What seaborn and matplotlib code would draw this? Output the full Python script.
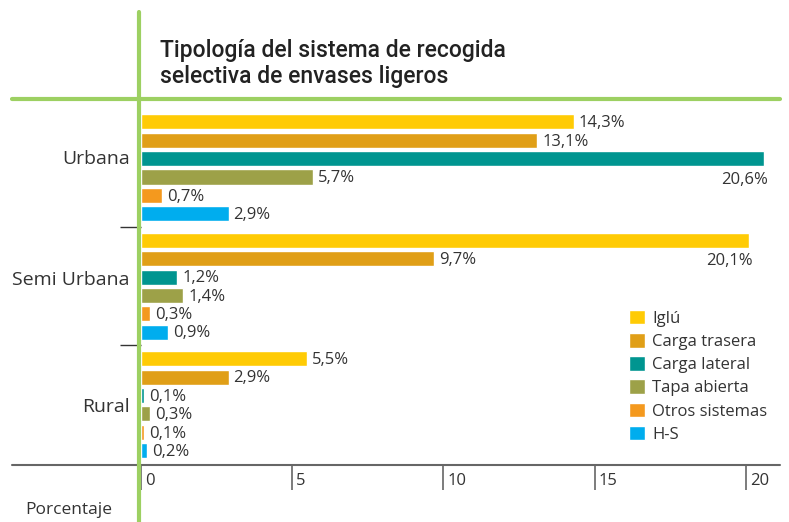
import numpy as np
import pandas as pd
import matplotlib
matplotlib.use('Agg')
import matplotlib.pyplot as plt
import matplotlib.transforms as mtransforms
from matplotlib.lines import Line2D
import seaborn as sns

# Data
zonas = ["Urbana", "Semi Urbana", "Rural"]
sistemas = ["Iglú", "Carga trasera", "Carga lateral", "Tapa abierta", "Otros sistemas", "H-S"]
iglu = [14.3, 20.1, 5.5]
carga_trasera = [13.1, 9.7, 2.9]
carga_lateral = [20.6, 1.2, 0.1]
tapa_abierta = [5.7, 1.4, 0.3]
otros_sistemas = [0.7, 0.3, 0.1]
hs = [2.9, 0.9, 0.2]
x_ticks = [0, 5, 10, 15, 20]

colores = ["#FFCB05", "#E09F17", "#009590", "#9DA148", "#F4991E", "#00ADEE"]
VERDE = "#9DD062"
GRIS = "#666666"
TEXTO = "#333333"

series = [iglu, carga_trasera, carga_lateral, tapa_abierta, otros_sistemas, hs]
rows = []
for s, vals in zip(sistemas, series):
    for z, v in zip(zonas, vals):
        rows.append({"zona": z, "sistema": s, "valor": v})
df = pd.DataFrame(rows)

sns.set_theme(style="white")
plt.rcParams['font.family'] = ['Open Sans', 'DejaVu Sans']

W, H = 789, 522
PX_UNIT = 30.25  # pixels per percentage point
fig = plt.figure(figsize=(W / 100, H / 100), dpi=100)
ax = fig.add_axes([141 / W, 1 - 465 / H, (780 - 141) / W, (465 - 98) / H])

sns.barplot(data=df, x="valor", y="zona", hue="sistema", order=zonas, hue_order=sistemas,
            palette=colores, orient="h", width=0.93, gap=0.18, errorbar=None,
            saturation=1, ax=ax)

ax.set_xlim(0, (780 - 141) / PX_UNIT)
ax.set_ylim(2.51, -0.59)
ax.set_xlabel("")
ax.set_ylabel("")
for sp in ax.spines.values():
    sp.set_visible(False)

# value labels
for cont in ax.containers:
    for p in cont:
        v = p.get_width()
        txt = f"{v:.1f}".replace(".", ",") + "%"
        if v >= 20:
            ax.annotate(txt, (v, p.get_y() + p.get_height()), xytext=(3, -4),
                        textcoords="offset points", ha="right", va="top",
                        fontsize=12, color=TEXTO)
        else:
            ax.annotate(txt, (v, p.get_y() + p.get_height() / 2), xytext=(3.5, -1),
                        textcoords="offset points", ha="left", va="center",
                        fontsize=12, color=TEXTO)

# separators between groups
ax.hlines([0.5, 1.5], -0.7, 0, colors=TEXTO, lw=1, clip_on=False)

# axes ticks
ax.tick_params(axis="y", length=0, pad=8, labelsize=14, labelcolor=TEXTO)
ax.set_xticks(x_ticks)
ax.set_xticklabels([str(t) for t in x_ticks])
ax.tick_params(axis="x", bottom=True, direction="out", length=18, width=1.2,
               color=GRIS, pad=0, labelsize=12, labelcolor=TEXTO)
offset = mtransforms.ScaledTranslation(4 / 100, 17 / 100, fig.dpi_scale_trans)
for lbl in ax.get_xticklabels():
    lbl.set_ha("left")
    lbl.set_transform(lbl.get_transform() + offset)
ydy = [11, 8, 0]
for lbl, dy in zip(ax.get_yticklabels(), ydy):
    lbl.set_transform(lbl.get_transform() + mtransforms.ScaledTranslation(0, dy / 100, fig.dpi_scale_trans))

# legend
leg = ax.legend(loc="upper left", bbox_to_anchor=(629 / W, 1 - 310 / H), bbox_transform=fig.transFigure,
                frameon=False, fontsize=12, handlelength=0.96, handleheight=0.96,
                handletextpad=0.45, labelspacing=0.37, borderpad=0, borderaxespad=0)
for t in leg.get_texts():
    t.set_color(TEXTO)

# frame lines
fig.add_artist(Line2D([139 / W, 139 / W], [0, 1 - 12 / H], transform=fig.transFigure, color=VERDE, lw=3, zorder=5))
fig.add_artist(Line2D([12 / W, 780 / W], [1 - 98.5 / H, 1 - 98.5 / H], transform=fig.transFigure, color=VERDE, lw=3, zorder=5))
fig.add_artist(Line2D([12 / W, 780 / W], [1 - 465 / H, 1 - 465 / H], transform=fig.transFigure, color=GRIS, lw=1.5, zorder=4))

# title
fig.text(160 / W, 1 - 57 / H, "Tipología del sistema de recogida", fontsize=16.5, color="#222222",
         va="baseline", family=["Roboto", "Open Sans"], weight="medium")
fig.text(160 / W, 1 - 83 / H, "selectiva de envases ligeros", fontsize=16.5, color="#222222",
         va="baseline", family=["Roboto", "Open Sans"], weight="medium")

fig.text(25 / W, 1 - 510 / H, "Porcentaje", fontsize=12.5, color=TEXTO, va="center")

fig.savefig("out.png", dpi=100)
